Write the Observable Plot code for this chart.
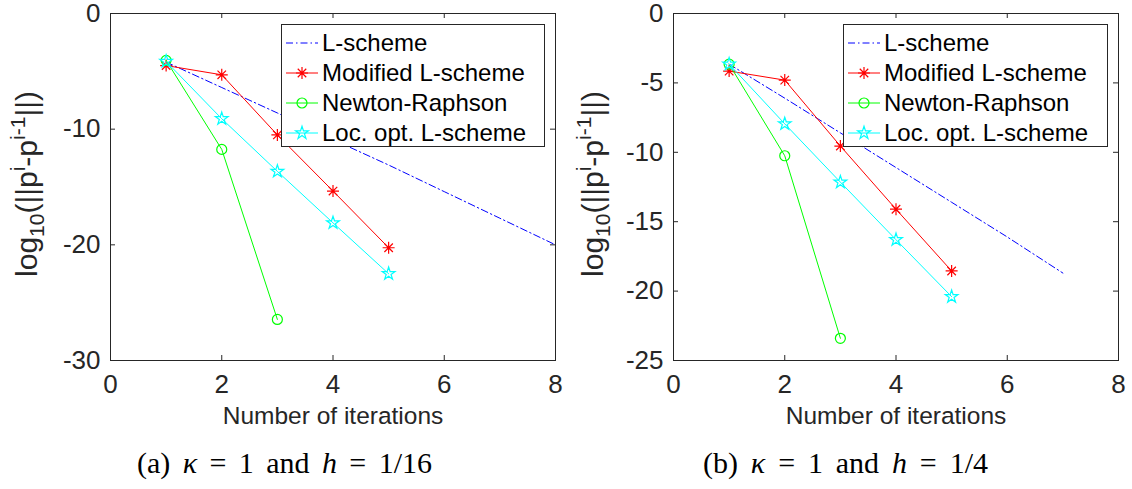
<!DOCTYPE html>
<html>
<head>
<meta charset="utf-8">
<script src="https://cdn.jsdelivr.net/npm/d3@7"></script>
<script src="https://cdn.jsdelivr.net/npm/@observablehq/plot@0.6"></script>
<style>
  body { margin: 0; background: #fff; }
  #wrap { position: relative; width: 1132px; height: 489px; overflow: hidden; background: #fff;
          font-family: "Liberation Sans", Arial, Helvetica, sans-serif; }
  .panel { position: absolute; top: 0; }
  .legend { position: absolute; background: #fff; border: 1px solid #262626; box-sizing: border-box; padding-top: 3px; }
  .row { display: flex; align-items: center; height: 30px; font-size: 24px; color: #000; white-space: nowrap; }
  .row svg { flex: none; }
  .caption { position: absolute; top: 448px; line-height: 30px; font-family: "Liberation Serif", "DejaVu Serif", serif;
             font-size: 30px; color: #000; text-align: justify; text-align-last: justify; white-space: nowrap; }
</style>
</head>
<body>
<div id="wrap"></div>
<script>
// ---------- data ----------
const seriesNames  = ["L-scheme", "Modified L-scheme", "Newton-Raphson", "Loc. opt. L-scheme"];
const seriesColors = ["#0000ff", "#ff0000", "#00ff00", "#00ffff"];

// panel (a): kappa = 1, h = 1/16
const itersA_L   = [1, 2, 3, 4, 5, 6, 7, 8];
const lSchemeA   = [-4.2, -6.4, -8.6, -10.9, -13.1, -15.4, -17.7, -20.0];
const itersA_M   = [1, 2, 3, 4, 5];
const modifiedA  = [-4.5, -5.3, -10.5, -15.35, -20.25];
const itersA_N   = [1, 2, 3];
const newtonA    = [-4.05, -11.75, -26.45];
const itersA_O   = [1, 2, 3, 4, 5];
const locOptA    = [-4.15, -9.1, -13.65, -18.1, -22.5];

// panel (b): kappa = 1, h = 1/4
const itersB_L   = [1, 2, 3, 4, 5, 6, 7];
const lSchemeB   = [-3.65, -6.1, -8.6, -11.1, -13.6, -16.1, -18.7];
const itersB_M   = [1, 2, 3, 4, 5];
const modifiedB  = [-4.15, -4.8, -9.55, -14.1, -18.55];
const itersB_N   = [1, 2, 3];
const newtonB    = [-3.65, -10.25, -23.4];
const itersB_O   = [1, 2, 3, 4, 5];
const locOptB    = [-3.65, -7.95, -12.15, -16.3, -20.4];

const xTicks  = [0, 2, 4, 6, 8];
const yTicksA = [0, -10, -20, -30];
const yTicksB = [0, -5, -10, -15, -20, -25];
const xLabel  = "Number of iterations";
const captionA = ["(a)", "κ", "=", "1", "and", "h", "=", "1/16"];
const captionB = ["(b)", "κ", "=", "1", "and", "h", "=", "1/4"];

// ---------- styles ----------
const axisColor = "#262626";
const asterisk8 = {
  draw(ctx, size) {
    const r = Math.sqrt(size / Math.PI), d = r * Math.SQRT1_2;
    ctx.moveTo(-r, 0); ctx.lineTo(r, 0);
    ctx.moveTo(0, -r); ctx.lineTo(0, r);
    ctx.moveTo(-d, -d); ctx.lineTo(d, d);
    ctx.moveTo(-d, d); ctx.lineTo(d, -d);
  }
};
const seriesStyle = [
  {dash: "7,3,1.5,3", symbol: null, r: 0},
  {dash: null, symbol: asterisk8, r: 6},
  {dash: null, symbol: "circle", r: 5},
  {dash: null, symbol: d3.symbolStar, r: 4}
];

const zip = (xs, ys) => xs.map((x, i) => ({x, y: ys[i]}));

function makePanel(cfg) {
  const W = 566, H = 440, mT = 13, mB = 80;
  const innerH = H - mT - mB, innerW = W - cfg.mL - cfg.mR;
  const marks = [
    Plot.frame({stroke: axisColor, strokeWidth: 1}),
    Plot.axisX(xTicks, {tickSize: 0, tickPadding: 14, tickFormat: d => String(d), fill: axisColor, label: null, fontSize: 26}),
    Plot.axisY(cfg.yTicks, {tickSize: 0, tickPadding: 10, tickFormat: d => String(d), fill: axisColor, label: null, fontSize: 26}),
    Plot.tickX(xTicks, {x: d => d, insetTop: innerH - 5, stroke: axisColor}),
    Plot.tickX(xTicks, {x: d => d, insetBottom: innerH - 5, stroke: axisColor}),
    Plot.tickY(cfg.yTicks, {y: d => d, insetRight: innerW - 5, stroke: axisColor}),
    Plot.tickY(cfg.yTicks, {y: d => d, insetLeft: innerW - 5, stroke: axisColor})
  ];
  cfg.series.forEach((s, k) => {
    const st = seriesStyle[k];
    const data = zip(s[0], s[1]);
    marks.push(Plot.line(data, {x: "x", y: "y", stroke: seriesColors[k], strokeWidth: 1,
                                strokeDasharray: st.dash || undefined}));
    if (st.symbol) {
      marks.push(Plot.dot(data, {x: "x", y: "y", symbol: st.symbol, r: st.r, stroke: seriesColors[k],
                                 fill: "none", strokeWidth: 1.2}));
    }
  });
  marks.push(Plot.text([xLabel], {text: d => d, frameAnchor: "bottom", dy: 63, fontSize: 24.5, fill: axisColor}));

  const svg = Plot.plot({
    width: W, height: H,
    marginLeft: cfg.mL, marginRight: cfg.mR, marginTop: mT, marginBottom: mB,
    x: {domain: [0, 8]},
    y: {domain: cfg.yDomain},
    style: {fontFamily: '"Liberation Sans", Arial, Helvetica, sans-serif', background: "white", overflow: "visible"},
    marks
  });

  // y-axis label with sub/superscripts
  const t = d3.select(svg).append("text")
    .attr("transform", `translate(37,184) rotate(-90)`)
    .attr("text-anchor", "middle")
    .attr("fill", axisColor)
    .attr("font-size", 30);
  t.append("tspan").text("log");
  t.append("tspan").attr("font-size", 21).attr("dy", 7).text("10");
  t.append("tspan").attr("dy", -7).text("(||p");
  t.append("tspan").attr("font-size", 21).attr("dy", -12).text("i");
  t.append("tspan").attr("dy", 12).text("-p");
  t.append("tspan").attr("font-size", 21).attr("dy", -12).text("i-1");
  t.append("tspan").attr("dy", 12).text("||)");

  const holder = document.createElement("div");
  holder.className = "panel";
  holder.style.left = cfg.left + "px";
  holder.appendChild(svg);
  document.getElementById("wrap").appendChild(holder);

  // legend
  const leg = document.createElement("div");
  leg.className = "legend";
  leg.style.left = cfg.legLeft + "px";
  leg.style.top = "24px";
  leg.style.width = cfg.legWidth + "px";
  leg.style.height = "123px";
  seriesNames.forEach((name, k) => {
    const st = seriesStyle[k];
    const row = document.createElement("div");
    row.className = "row";
    const s = d3.create("svg").attr("width", 40).attr("height", 30);
    s.append("line").attr("x1", 4).attr("x2", 36).attr("y1", 15).attr("y2", 15)
      .attr("stroke", seriesColors[k]).attr("stroke-width", 1)
      .attr("stroke-dasharray", st.dash);
    if (st.symbol) {
      const type = st.symbol === "circle" ? d3.symbolCircle : st.symbol;
      s.append("path").attr("d", d3.symbol(type, Math.PI * st.r * st.r)())
        .attr("transform", "translate(20,15)").attr("fill", "none")
        .attr("stroke", seriesColors[k]).attr("stroke-width", 1.2);
    }
    row.appendChild(s.node());
    const span = document.createElement("span");
    span.textContent = name;
    row.appendChild(span);
    leg.appendChild(row);
  });
  document.getElementById("wrap").appendChild(leg);

  // caption
  const cap = document.createElement("div");
  cap.className = "caption";
  cap.style.left = cfg.capLeft + "px";
  cap.style.width = cfg.capWidth + "px";
  cap.innerHTML = cfg.caption.map(w => (w === "κ" || w === "h") ? `<i>${w}</i>` : w).join(" ");
  document.getElementById("wrap").appendChild(cap);
}

makePanel({
  left: 0, mL: 110, mR: 11, yDomain: [-30, 0], yTicks: yTicksA,
  series: [[itersA_L, lSchemeA], [itersA_M, modifiedA], [itersA_N, newtonA], [itersA_O, locOptA]],
  legLeft: 281, legWidth: 264, capLeft: 137, capWidth: 295, caption: captionA
});
makePanel({
  left: 566, mL: 107, mR: 14, yDomain: [-25, 0], yTicks: yTicksB,
  series: [[itersB_L, lSchemeB], [itersB_M, modifiedB], [itersB_N, newtonB], [itersB_O, locOptB]],
  legLeft: 843, legWidth: 265, capLeft: 703, capWidth: 285, caption: captionB
});
</script>
</body>
</html>
